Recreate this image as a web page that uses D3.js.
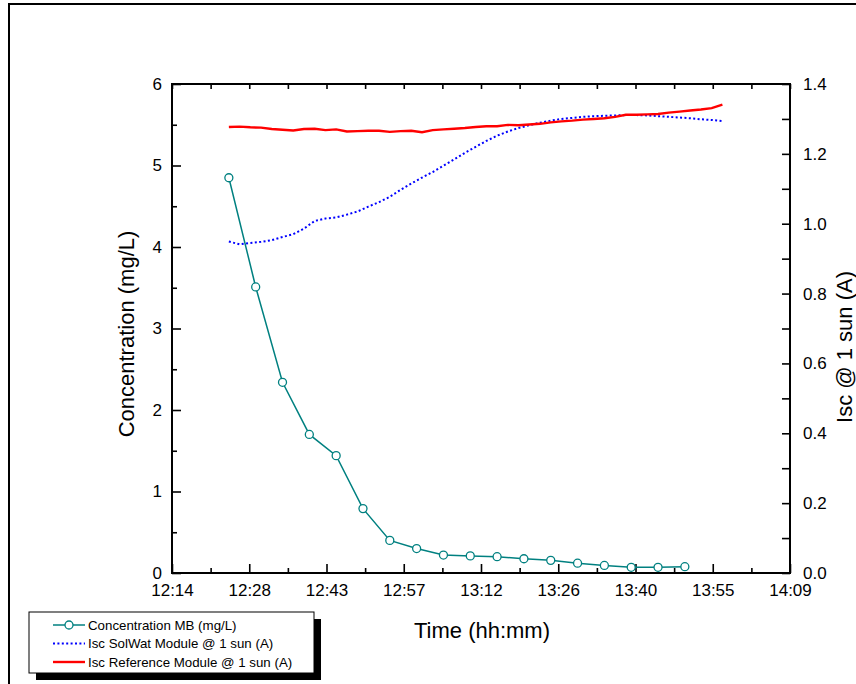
<!DOCTYPE html>
<html>
<head>
<meta charset="UTF-8">
<title>Concentration MB and Isc vs time</title>
<script src="https://cdn.jsdelivr.net/npm/d3@7"></script>
<style>
    body { margin: 0; background: #fff; }
    svg text { font-family: Arial, "Liberation Sans", sans-serif; fill: #000; }
</style>
</head>
<body>
<div id="chart"></div>
<script>
var svgW = 856, svgH = 684;
var plotL = 172, plotR = 790, plotT = 84, plotB = 573;

// time axis in minutes after midnight (ticks every 0.01 day)
var xTicks = [734.4, 748.8, 763.2, 777.6, 792, 806.4, 820.8, 835.2, 849.6];
var xTickLabels = ["12:14", "12:28", "12:43", "12:57", "13:12", "13:26", "13:40", "13:55", "14:09"];
var xMinor = [741.6, 756, 770.4, 784.8, 799.2, 813.6, 828, 842.4];
var yLeftTicks = [0, 1, 2, 3, 4, 5, 6];
var yLeftMinor = [0.5, 1.5, 2.5, 3.5, 4.5, 5.5];
var yRightTicks = [0, 0.2, 0.4, 0.6, 0.8, 1.0, 1.2, 1.4];
var yRightMinor = [0.1, 0.3, 0.5, 0.7, 0.9, 1.1, 1.3];

// concentration MB (mg/L), sampled every 5 min
var concTime = [745, 750, 755, 760, 765, 770, 775, 780, 785, 790, 795, 800, 805, 810, 815, 820, 825, 830];
var concMB = [4.85, 3.51, 2.34, 1.70, 1.44, 0.79, 0.40, 0.30, 0.22, 0.21, 0.20, 0.175, 0.155, 0.12, 0.093, 0.07, 0.07, 0.077];

// Isc readings (A)
var iscTime = [745, 747, 749, 751, 753, 755, 757, 759, 761, 763, 765, 767, 769, 771, 773, 775,
    777, 779, 781, 783, 785, 787, 789, 791, 793, 795, 797, 799, 801, 803, 805, 807,
    809, 811, 813, 815, 817, 819, 821, 823, 825, 827, 829, 831, 833, 835, 837];
var iscSolWat = [0.949, 0.941, 0.945, 0.948, 0.953, 0.962, 0.970, 0.986, 1.008, 1.015, 1.018, 1.026, 1.035, 1.049, 1.062, 1.077,
    1.097, 1.115, 1.132, 1.148, 1.166, 1.184, 1.203, 1.220, 1.237, 1.252, 1.264, 1.274, 1.282, 1.289, 1.295, 1.300,
    1.303, 1.306, 1.308, 1.309, 1.310, 1.311, 1.311, 1.310, 1.308, 1.306, 1.304, 1.302, 1.299, 1.297, 1.294];
var iscReference = [1.277, 1.278, 1.276, 1.275, 1.271, 1.269, 1.267, 1.271, 1.272, 1.268, 1.270, 1.264, 1.265, 1.266, 1.266, 1.263,
    1.265, 1.266, 1.262, 1.268, 1.270, 1.272, 1.274, 1.277, 1.279, 1.279, 1.283, 1.282, 1.284, 1.286, 1.290, 1.293,
    1.295, 1.298, 1.300, 1.302, 1.306, 1.312, 1.312, 1.313, 1.314, 1.318, 1.321, 1.324, 1.327, 1.331, 1.341];

var legendLabels = ["Concentration MB (mg/L)", "Isc SolWat Module @ 1 sun (A)", "Isc Reference Module @ 1 sun (A)"];
var tealColor = "#008080", blueColor = "#0000ff", redColor = "#ff0000";

var svg = d3.select("#chart").append("svg")
        .attr("width", svgW)
        .attr("height", svgH);

// outer frame (only left and top edges visible)
svg.append("path")
        .attr("d", "M9," + svgH + "V4H" + svgW)
        .attr("fill", "none")
        .attr("stroke", "#000")
        .attr("stroke-width", 2);

var x = d3.scaleLinear().domain([734.4, 849.6]).range([plotL, plotR]);
var yL = d3.scaleLinear().domain([0, 6]).range([plotB, plotT]);
var yR = d3.scaleLinear().domain([0, 1.4]).range([plotB, plotT]);

function styleAxis(g, fontSize) {
    g.select(".domain").remove();
    g.selectAll(".tick line").attr("stroke", "#000").attr("stroke-width", 1.6);
    g.selectAll(".tick text").style("font-size", fontSize + "px");
}

// bottom axis
svg.append("g").attr("transform", "translate(0," + plotB + ")")
        .call(d3.axisBottom(x).tickValues(xTicks)
                .tickFormat(function (d, i) { return xTickLabels[i]; })
                .tickSizeInner(-9).tickSizeOuter(0).tickPadding(11))
        .call(styleAxis, 17);
svg.append("g").attr("transform", "translate(0," + plotB + ")")
        .call(d3.axisBottom(x).tickValues(xMinor).tickFormat("").tickSizeInner(-5).tickSizeOuter(0))
        .call(styleAxis, 17);
// top axis
svg.append("g").attr("transform", "translate(0," + plotT + ")")
        .call(d3.axisTop(x).tickValues(xTicks.concat(xMinor)).tickFormat("").tickSizeInner(-5).tickSizeOuter(0))
        .call(styleAxis, 17);
// left axis
svg.append("g").attr("transform", "translate(" + plotL + ",0)")
        .call(d3.axisLeft(yL).tickValues(yLeftTicks).tickFormat(d3.format("d"))
                .tickSizeInner(-9).tickSizeOuter(0).tickPadding(10))
        .call(styleAxis, 17);
svg.append("g").attr("transform", "translate(" + plotL + ",0)")
        .call(d3.axisLeft(yL).tickValues(yLeftMinor).tickFormat("").tickSizeInner(-5).tickSizeOuter(0))
        .call(styleAxis, 17);
// right axis
svg.append("g").attr("transform", "translate(" + plotR + ",0)")
        .call(d3.axisRight(yR).tickValues(yRightTicks).tickFormat(d3.format(".1f"))
                .tickSizeInner(-8).tickSizeOuter(0).tickPadding(13))
        .call(styleAxis, 17);
svg.append("g").attr("transform", "translate(" + plotR + ",0)")
        .call(d3.axisRight(yR).tickValues(yRightMinor).tickFormat("").tickSizeInner(-8).tickSizeOuter(0))
        .call(styleAxis, 17);

// plot frame
svg.append("rect")
        .attr("x", plotL).attr("y", plotT)
        .attr("width", plotR - plotL).attr("height", plotB - plotT)
        .attr("fill", "none").attr("stroke", "#000").attr("stroke-width", 2);

// Isc SolWat (dotted blue)
var lineSol = d3.line()
        .x(function (d, i) { return x(iscTime[i]); })
        .y(function (d) { return yR(d); });
svg.append("path")
        .datum(iscSolWat)
        .attr("d", lineSol)
        .attr("fill", "none")
        .attr("stroke", blueColor)
        .attr("stroke-width", 2)
        .attr("stroke-dasharray", "2,2.4");

// Isc reference (solid red)
svg.append("path")
        .datum(iscReference)
        .attr("d", lineSol)
        .attr("fill", "none")
        .attr("stroke", redColor)
        .attr("stroke-width", 2.4);

// concentration MB
var lineConc = d3.line()
        .x(function (d, i) { return x(concTime[i]); })
        .y(function (d) { return yL(d); });
svg.append("path")
        .datum(concMB)
        .attr("d", lineConc)
        .attr("fill", "none")
        .attr("stroke", tealColor)
        .attr("stroke-width", 1.5);
svg.selectAll("circle.conc")
        .data(concMB)
        .enter()
        .append("circle")
        .attr("class", "conc")
        .attr("cx", function (d, i) { return x(concTime[i]); })
        .attr("cy", function (d) { return yL(d); })
        .attr("r", 4)
        .attr("fill", "#fff")
        .attr("stroke", tealColor)
        .attr("stroke-width", 1.3);

// axis titles
svg.append("text")
        .attr("x", (plotL + plotR) / 2 + 1)
        .attr("y", 638)
        .attr("text-anchor", "middle")
        .style("font-size", "22px")
        .text("Time (hh:mm)");
svg.append("text")
        .attr("transform", "translate(134,334) rotate(-90)")
        .attr("text-anchor", "middle")
        .style("font-size", "22px")
        .text("Concentration (mg/L)");
svg.append("text")
        .attr("transform", "translate(852,347) rotate(-90)")
        .attr("text-anchor", "middle")
        .style("font-size", "22px")
        .text("Isc @ 1 sun (A)");

// legend box with shadow
var lg = svg.append("g");
lg.append("rect")
        .attr("x", 36).attr("y", 619).attr("width", 285).attr("height", 61)
        .attr("fill", "#000");
lg.append("rect")
        .attr("x", 29).attr("y", 612).attr("width", 285).attr("height", 61)
        .attr("fill", "#fff").attr("stroke", "#000").attr("stroke-width", 1);

var legendRows = lg.selectAll("g.row")
        .data(legendLabels)
        .enter()
        .append("g")
        .attr("class", "row")
        .attr("transform", function (d, i) { return "translate(0," + (625 + i * 18.5) + ")"; });
legendRows.append("line")
        .attr("x1", 53).attr("x2", 85).attr("y1", 0).attr("y2", 0)
        .attr("stroke", function (d, i) { return [tealColor, blueColor, redColor][i]; })
        .attr("stroke-width", function (d, i) { return [1.5, 2, 2.4][i]; })
        .attr("stroke-dasharray", function (d, i) { return i === 1 ? "2,2.4" : null; });
lg.append("circle")
        .attr("cx", 69).attr("cy", 625).attr("r", 4)
        .attr("fill", "#fff").attr("stroke", tealColor).attr("stroke-width", 1.3);
legendRows.append("text")
        .attr("x", 88)
        .attr("dy", "0.35em")
        .style("font-size", "13.3px")
        .text(function (d) { return d; });
</script>
</body>
</html>
